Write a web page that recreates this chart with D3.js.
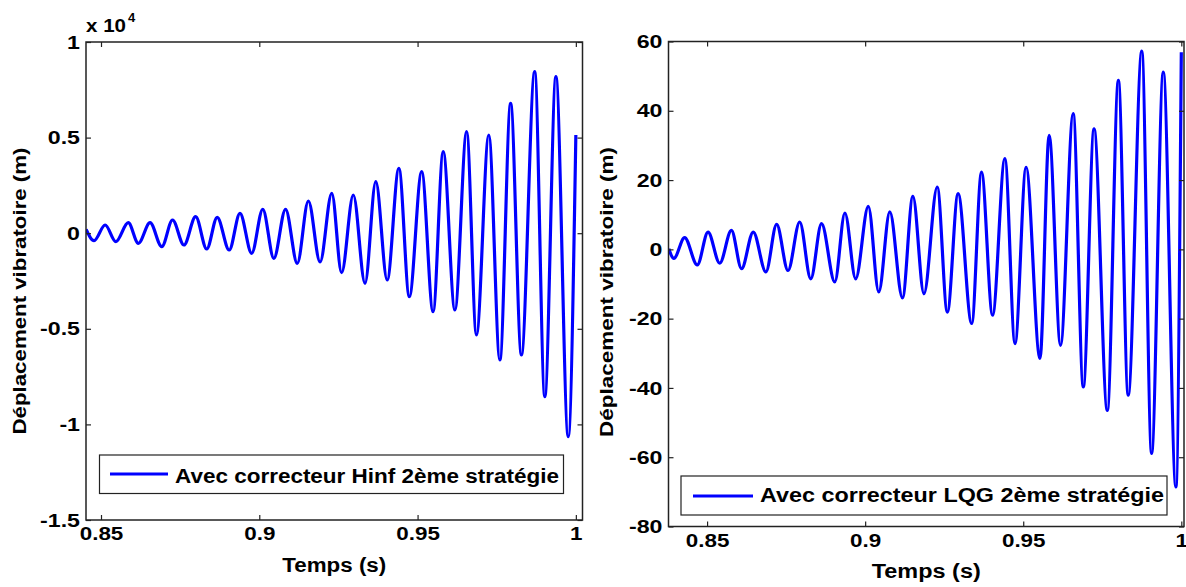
<!DOCTYPE html>
<html>
<head>
<meta charset="utf-8">
<script src="https://cdn.jsdelivr.net/npm/d3@7"></script>
<style>
  html, body { margin: 0; padding: 0; background: #fff; }
  svg text { font-family: "Liberation Sans", Arial, sans-serif; font-weight: bold; fill: #000; }
</style>
</head>
<body>
<svg id="chart" width="1186" height="587"></svg>
<script>
// ---- Data ----
// Left panel: Hinf controller, displacement in metres (axis shown x 10^4)
const timeHinf = [0.8453, 0.8478, 0.8513, 0.8547, 0.8586, 0.8618, 0.8655, 0.8692, 0.8726, 0.8762,
  0.8799, 0.8834, 0.8867, 0.8905, 0.8939, 0.8976, 0.9011, 0.9046, 0.9083, 0.9120,
  0.9155, 0.9192, 0.9229, 0.9260, 0.9297, 0.9334, 0.9368, 0.9404, 0.9441, 0.9474,
  0.9513, 0.9549, 0.9581, 0.9618, 0.9655, 0.9686, 0.9725, 0.9760, 0.9794, 0.9828,
  0.9870, 0.9902, 0.9937, 0.9976, 1.0000];
const dispHinf = [204, -392, 429, -445, 549, -528, 549, -706, 690, -617,
  863, -826, 832, -879, 1041, -1051, 1250, -1313, 1250, -1574,
  1684, -1506, 2087, -2066, 1998, -2620, 2694, -2448, 3394, -3321,
  3217, -4106, 4263, -4017, 5309, -5324, 5136, -6632, 6794, -6370,
  8447, -8551, 8185, -10643, 5136];

// Right panel: LQG controller, displacement in metres
const timeLQG = [0.8379, 0.8395, 0.8429, 0.8469, 0.8503, 0.8540, 0.8577, 0.8609, 0.8646, 0.8686,
  0.8720, 0.8756, 0.8793, 0.8828, 0.8862, 0.8904, 0.8936, 0.8970, 0.9010, 0.9043,
  0.9078, 0.9118, 0.9151, 0.9186, 0.9228, 0.9260, 0.9294, 0.9337, 0.9368, 0.9403,
  0.9442, 0.9474, 0.9509, 0.9553, 0.9582, 0.9618, 0.9658, 0.9690, 0.9724, 0.9766,
  0.9801, 0.9832, 0.9875, 0.9906, 0.9943, 0.9983, 1.0000];
const dispLQG = [0.2, -2.6, 3.4, -4.5, 5.0, -4.0, 5.5, -5.6, 5.0, -6.5,
  7.2, -6.1, 7.9, -8.5, 7.4, -9.4, 10.5, -8.5, 12.4, -12.3,
  10.8, -14.0, 15.3, -12.8, 18.0, -18.1, 16.1, -21.4, 22.3, -19.0,
  26.2, -27.2, 23.7, -31.5, 32.9, -27.7, 39.2, -39.7, 34.8, -46.5,
  48.8, -42.1, 57.2, -58.9, 51.2, -68.6, 56.9];

// Tick values / labels
const xTicks = [0.85, 0.9, 0.95, 1];
const xTickLabels = ["0.85", "0.9", "0.95", "1"];
const yTicksHinf = [-15000, -10000, -5000, 0, 5000, 10000];
const yTickLabelsHinf = ["-1.5", "-1", "-0.5", "0", "0.5", "1"];
const yTicksLQG = [-80, -60, -40, -20, 0, 20, 40, 60];
const yTickLabelsLQG = ["-80", "-60", "-40", "-20", "0", "20", "40", "60"];

const legendHinf = "Avec correcteur Hinf 2ème stratégie";
const legendLQG = "Avec correcteur LQG 2ème stratégie";
const xLabel = "Temps (s)";
const yLabel = "Déplacement vibratoire (m)";

// ---- Drawing ----
const svg = d3.select("#chart");

function stretch(sel, k) {
  sel.each(function () {
    const w = this.getComputedTextLength();
    d3.select(this).attr("textLength", w * k).attr("lengthAdjust", "spacingAndGlyphs");
  });
}

function panel(cfg) {
  const g = svg.append("g");
  const x = d3.scaleLinear().domain(cfg.xDomain).range([cfg.left, cfg.right]);
  const y = d3.scaleLinear().domain(cfg.yDomain).range([cfg.bottom, cfg.top]);

  const clipId = "clip" + cfg.id;
  svg.append("clipPath").attr("id", clipId).append("rect")
    .attr("x", cfg.left).attr("y", cfg.top - 1)
    .attr("width", cfg.right - cfg.left + 2).attr("height", cfg.bottom - cfg.top + 2);

  // data line
  const data = cfg.t.map((t, i) => [t, cfg.v[i]]);
  g.append("path")
    .datum(data)
    .attr("clip-path", `url(#${clipId})`)
    .attr("fill", "none")
    .attr("stroke", "#0000ff")
    .attr("stroke-width", 3.2)
    .attr("d", d3.line().x(d => x(d[0])).y(d => y(d[1])).curve(d3.curveMonotoneX));

  // axes (MATLAB-style inward ticks, mirrored)
  const fmtX = d => xTickLabels[xTicks.indexOf(d)];
  const fmtY = d => cfg.yLabels[cfg.yTicks.indexOf(d)];

  const xb = g.append("g").attr("transform", `translate(0,${cfg.bottom})`)
    .call(d3.axisBottom(x).tickValues(xTicks).tickFormat(fmtX).tickSizeInner(-5).tickSizeOuter(0).tickPadding(cfg.xPad));
  const xt = g.append("g").attr("transform", `translate(0,${cfg.top})`)
    .call(d3.axisTop(x).tickValues(xTicks).tickFormat("").tickSizeInner(-5).tickSizeOuter(0));
  const yl = g.append("g").attr("transform", `translate(${cfg.left},0)`)
    .call(d3.axisLeft(y).tickValues(cfg.yTicks).tickFormat(fmtY).tickSizeInner(-5).tickSizeOuter(0).tickPadding(6));
  const yr = g.append("g").attr("transform", `translate(${cfg.right},0)`)
    .call(d3.axisRight(y).tickValues(cfg.yTicks).tickFormat("").tickSizeInner(-5).tickSizeOuter(0));

  [xb, xt, yl, yr].forEach(a => {
    a.select(".domain").remove();
    a.selectAll(".tick line").attr("stroke", "#222").attr("stroke-width", 1.2);
    a.selectAll(".tick text").style("font-size", "19px").attr("fill", "#000");
  });
  stretch(yl.selectAll(".tick text"), 1.22);
  stretch(xb.selectAll(".tick text"), 1.18);

  // box
  g.append("rect")
    .attr("x", cfg.left).attr("y", cfg.top)
    .attr("width", cfg.right - cfg.left).attr("height", cfg.bottom - cfg.top)
    .attr("fill", "none").attr("stroke", "#222").attr("stroke-width", 1.5);

  // axis labels
  g.append("text")
    .attr("x", (cfg.left + cfg.right) / 2).attr("y", cfg.xLabelY)
    .attr("text-anchor", "middle").style("font-size", "20px")
    .attr("textLength", cfg.xLabelW).attr("lengthAdjust", "spacingAndGlyphs")
    .text(xLabel);

  g.append("text")
    .attr("transform", `translate(${cfg.yLabelX},${cfg.yLabelCY}) rotate(-90)`)
    .attr("text-anchor", "middle").style("font-size", "18px")
    .attr("textLength", cfg.yLabelW).attr("lengthAdjust", "spacingAndGlyphs")
    .text(yLabel);

  // legend
  const L = cfg.legend;
  g.append("rect")
    .attr("x", L.x0).attr("y", L.y0).attr("width", L.x1 - L.x0).attr("height", L.y1 - L.y0)
    .attr("fill", "#fff").attr("stroke", "#222").attr("stroke-width", 1.2);
  g.append("line")
    .attr("x1", L.lx0).attr("x2", L.lx1).attr("y1", L.ly).attr("y2", L.ly)
    .attr("stroke", "#0000ff").attr("stroke-width", 3);
  g.append("text")
    .attr("x", L.tx).attr("y", L.ty).style("font-size", "20px")
    .attr("textLength", L.tw).attr("lengthAdjust", "spacingAndGlyphs")
    .text(cfg.legendText);

  return g;
}

panel({
  id: "L", left: 86, right: 582.5, top: 42, bottom: 520,
  xDomain: [0.84526, 1.0021], yDomain: [-15000, 10000],
  t: timeHinf, v: dispHinf,
  yTicks: yTicksHinf, yLabels: yTickLabelsHinf,
  xPad: 7, xLabelY: 572, xLabelW: 104,
  yLabelX: 26, yLabelCY: 291, yLabelW: 287,
  legendText: legendHinf,
  legend: { x0: 99.5, x1: 563.5, y0: 455, y1: 493.5, lx0: 110, lx1: 168, ly: 474, tx: 175, ty: 483, tw: 384 }
});

panel({
  id: "R", left: 668.5, right: 1184, top: 41.5, bottom: 526.5,
  xDomain: [0.8378, 1.00085], yDomain: [-80, 60],
  t: timeLQG, v: dispLQG,
  yTicks: yTicksLQG, yLabels: yTickLabelsLQG,
  xPad: 7, xLabelY: 578, xLabelW: 109,
  yLabelX: 613, yLabelCY: 292, yLabelW: 290,
  legendText: legendLQG,
  legend: { x0: 681, x1: 1167, y0: 476, y1: 515, lx0: 693, lx1: 753, ly: 496, tx: 760, ty: 502, tw: 404 }
});

// exponent label "x 10^4" on the left panel
const ex = svg.append("text").attr("x", 86).attr("y", 32).style("font-size", "19px");
ex.append("tspan").attr("textLength", 40).attr("lengthAdjust", "spacingAndGlyphs").text("x 10");
ex.append("tspan").attr("dx", 2).attr("dy", -10).style("font-size", "13px").text("4");
</script>
</body>
</html>
